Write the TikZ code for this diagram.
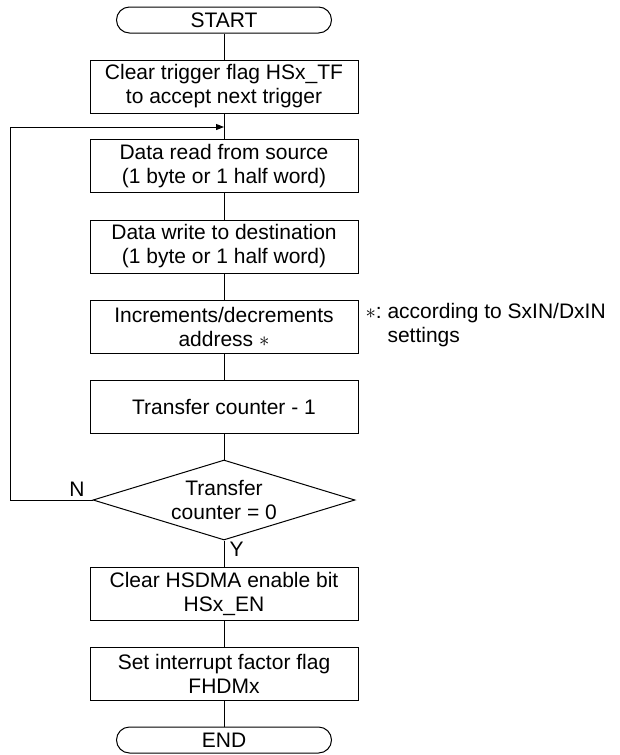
\documentclass[tikz,border=0pt]{standalone}
\usepackage{fontspec}
\setmainfont{Liberation Sans}
\usetikzlibrary{arrows.meta,shapes.geometric}
\tikzset{
  every picture/.style={line width=1pt, line join=miter,
    >={Triangle[length=8pt,width=6pt]}},
  every node/.style={font=\fontsize{21}{24}\selectfont},
  % Ablaufkästen
  proc/.style={draw, rectangle, minimum width=268pt, minimum height=53pt,
    inner sep=0pt, align=center},
  term/.style={draw, rectangle, rounded corners=13pt, minimum width=215pt,
    minimum height=26pt, inner sep=0pt},
  cond/.style={draw, diamond, minimum width=262pt, minimum height=80pt,
    inner sep=0pt},
  % Beschriftung
  lbl/.style={inner sep=0pt},
}
\begin{document}
\begin{tikzpicture}[x=1pt, y=-1pt]
  \useasboundingbox (0,0) rectangle (619,755);
  % Hauptstrang
  \node[term] (start) at (224,20) {START};
  \node[proc] (clr) at (224,86.5) {Clear trigger flag HSx\_TF\\to accept next trigger};
  \node[proc] (rd) at (224,166) {Data read from source\\(1 byte or 1 half word)};
  \node[proc] (wr) at (224,246.5) {Data write to destination\\(1 byte or 1 half word)};
  \node[proc] (inc) at (224,326.5) {Increments/decrements\\address $\ast$};
  \node[proc] (dec) at (224,406.5) {Transfer counter - 1};
  \node[cond] (chk) at (224,500) {};
  \node[lbl, align=center] (chktxt) at (chk) {Transfer\\counter = 0};
  \node[proc] (dis) at (224,593.5) {Clear HSDMA enable bit\\HSx\_EN};
  \node[proc] (setf) at (224,673.5) {Set interrupt factor flag\\FHDMx};
  \node[term] (stop) at (224,740) {END};
  \coordinate (mrg) at (224,127);
  \draw (start) -- (clr);
  \draw (clr) -- (rd);
  \draw (rd) -- (wr);
  \draw (wr) -- (inc);
  \draw (inc) -- (dec);
  \draw (dec) -- (chk);
  \draw (chk) -- (dis);
  \draw (dis) -- (setf);
  \draw (setf) -- (stop);
  % Schleife zurück
  \draw[->] (chk.west) -- (10,500) |- (mrg);
  \node[lbl, anchor=south] (nlbl) at (77,497) {N};
  \node[lbl, anchor=north west] (ylbl) at (229,542) {Y};
  % Anmerkung
  \node[lbl, anchor=base west] (ast) at (365,318) {$\ast$:};
  \node[lbl, anchor=base west] (note1) at (387,318) {according to SxIN/DxIN};
  \node[lbl, anchor=base west] (note2) at (387,342) {settings};
\end{tikzpicture}
\end{document}
